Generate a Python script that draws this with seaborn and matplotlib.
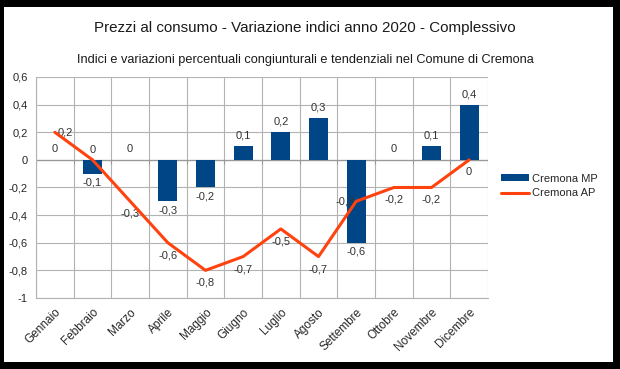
import seaborn as sns
import pandas as pd
from matplotlib import pyplot as plt
from matplotlib.patches import Rectangle, Patch
from matplotlib.lines import Line2D

mesi = ['Gennaio', 'Febbraio', 'Marzo', 'Aprile', 'Maggio', 'Giugno',
        'Luglio', 'Agosto', 'Settembre', 'Ottobre', 'Novembre', 'Dicembre']
cremona_mp = [0, -0.1, 0, -0.3, -0.2, 0.1, 0.2, 0.3, -0.6, 0, 0.1, 0.4]
cremona_ap = [0.2, 0, -0.3, -0.6, -0.8, -0.7, -0.5, -0.7, -0.3, -0.2, -0.2, 0]
y_ticks = [-1, -0.8, -0.6, -0.4, -0.2, 0, 0.2, 0.4, 0.6]

df = pd.DataFrame({'mese': mesi, 'MP': cremona_mp, 'AP': cremona_ap})

# label placement for the AP line (offset in points)
ap_offsets = [(2, 0, 'left'), (0, 7, 'center'), (0, -9, 'center'), (0, -9, 'center'),
              (0, -9, 'center'), (0, -9, 'center'), (0, -9, 'center'), (0, -9, 'center'),
              (-1, 0, 'right'), (0, -9, 'center'), (0, -9, 'center'), (0, -9, 'center')]

blu = '#004586'
arancio = '#ff420e'
grigio = '#b3b3b3'


def virgola(v):
    s = ('%g' % v).replace('.', ',')
    return '0' if s in ('-0', '0') else s


sns.set_style('white')
plt.rcParams['font.family'] = ['Liberation Sans', 'DejaVu Sans']

fig = plt.figure(figsize=(6.2, 3.69), dpi=100)
fig.patch.set_facecolor('black')
fig.patches.append(Rectangle((4 / 620, 7 / 369), 609 / 620, 355 / 369,
                             transform=fig.transFigure, facecolor='white',
                             edgecolor='none', zorder=-5))

ax = fig.add_axes([36 / 620, 1 - 298 / 369, 452 / 620, 221 / 369])
ax.set_facecolor('white')

sns.barplot(data=df, x='mese', y='MP', color=blu, width=0.5, saturation=1,
            linewidth=0, ax=ax, zorder=3)
sns.lineplot(x=list(range(len(mesi))), y=cremona_ap, color=arancio,
             linewidth=2.2, ax=ax, zorder=4, sort=False)

ax.set_xlim(-0.5, len(mesi) - 0.5)
ax.set_ylim(-1, 0.6)
ax.set_yticks(y_ticks)
ax.set_yticklabels([virgola(v) for v in y_ticks], fontsize=8)
ax.set_xticks(range(len(mesi)))
ax.set_xticklabels(mesi, rotation=45, ha='right', rotation_mode='anchor', fontsize=8.5)
ax.set_xticks([i - 0.5 for i in range(len(mesi) + 1)], minor=True)
ax.tick_params(axis='x', which='major', length=0, pad=6)
ax.tick_params(axis='x', which='minor', length=4, color=grigio, direction='out')
ax.tick_params(axis='y', length=4, color=grigio, direction='out', pad=2)
ax.set_xlabel('')
ax.set_ylabel('')

ax.grid(True, axis='y', color=grigio, linewidth=0.8, zorder=0)
ax.grid(True, axis='x', which='minor', color=grigio, linewidth=0.8, zorder=0)
ax.set_axisbelow(True)
for s in ['top', 'right']:
    ax.spines[s].set_visible(False)
for s in ['left', 'bottom']:
    ax.spines[s].set_color(grigio)
    ax.spines[s].set_linewidth(0.8)
ax.axhline(0, color='#999999', linewidth=0.9, zorder=2)
ax.vlines([i - 0.5 for i in range(len(mesi) + 1)], -0.03, 0, color='#999999',
          linewidth=0.8, zorder=2)

for i, v in enumerate(cremona_mp):
    if v >= 0:
        ax.annotate(virgola(v), (i, v), xytext=(0, 4), textcoords='offset points',
                    ha='center', va='bottom', fontsize=8, color='#333333')
    else:
        ax.annotate(virgola(v), (i, v), xytext=(0, -3), textcoords='offset points',
                    ha='center', va='top', fontsize=8, color='#333333')

for i, v in enumerate(cremona_ap):
    dx, dy, ha = ap_offsets[i]
    ax.annotate(virgola(v), (i, v), xytext=(dx, dy), textcoords='offset points',
                ha=ha, va='center', fontsize=8, color='#333333')

fig.text(0.492, 1 - 28 / 369, 'Prezzi al consumo - Variazione indici anno 2020 - Complessivo',
         ha='center', va='center', fontsize=10.9, color='#1a1a1a')
fig.text(0.493, 1 - 60 / 369, 'Indici e variazioni percentuali congiunturali e tendenziali nel Comune di Cremona',
         ha='center', va='center', fontsize=9.2, color='#1a1a1a')

handles = [Patch(facecolor=blu, edgecolor='none'),
           Line2D([0], [0], color=arancio, linewidth=2.2)]
fig.legend(handles, ['Cremona MP', 'Cremona AP'], loc='center left',
           bbox_to_anchor=(501 / 620, 1 - 186 / 369), frameon=False, fontsize=8,
           handlelength=2.5, handleheight=0.6, handletextpad=0.3,
           borderpad=0, borderaxespad=0, labelspacing=0.4)

fig.savefig('out.png', dpi=100)
